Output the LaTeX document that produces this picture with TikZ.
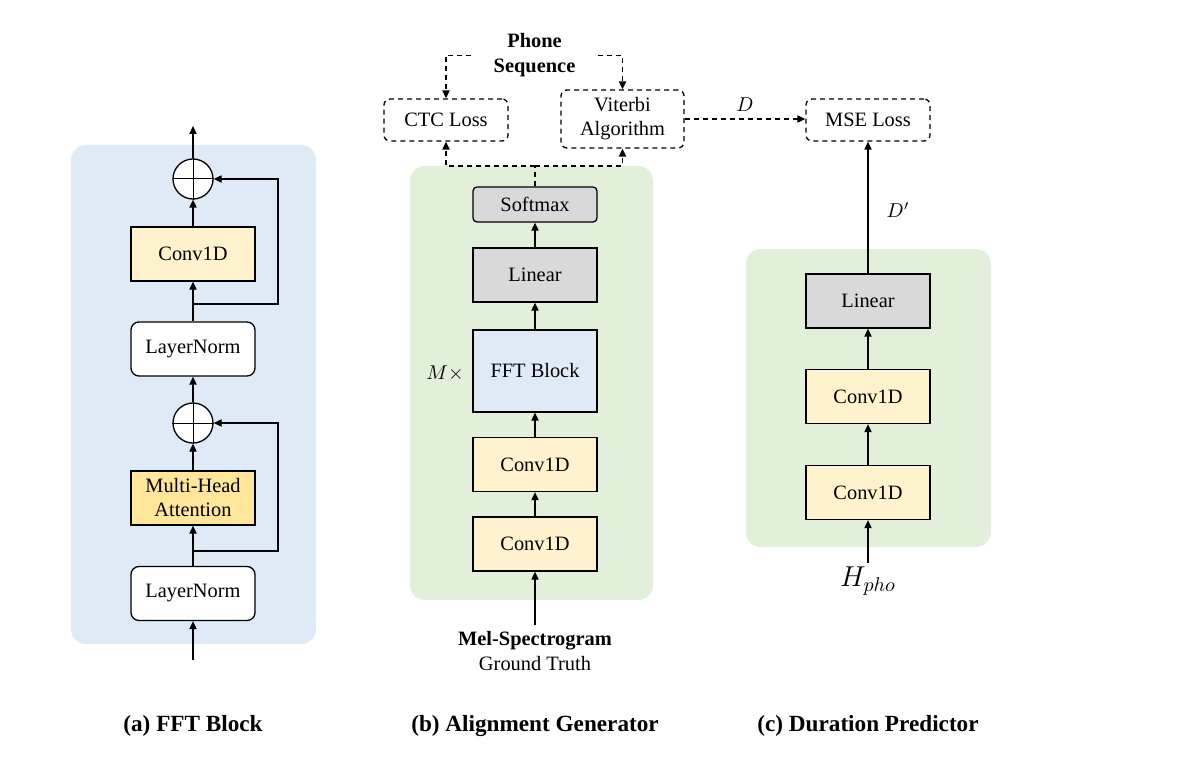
\documentclass[tikz,border=0pt]{standalone}
\usepackage{fontspec}
\setmainfont{LiberationSerif}[Extension=.ttf,UprightFont=*-Regular,BoldFont=*-Bold,ItalicFont=*-Italic,BoldItalicFont=*-BoldItalic]
\usetikzlibrary{arrows.meta}

\begin{document}
\begin{tikzpicture}[x=0.5pt,y=-0.5pt,line width=0.65pt,
  arr/.style={-{Triangle[length=4pt,width=3.6pt]}},
  dline/.style={dashed,dash pattern=on 2.5pt off 2pt,-{Triangle[length=4pt,width=3.6pt]}},
  blk/.style={draw,minimum width=62pt,minimum height=27pt,inner sep=0pt,align=center,font=\fontsize{10.2}{12}\selectfont},
  lossbox/.style={blk,dashed,dash pattern=on 2.5pt off 2pt,rounded corners=3pt,minimum height=21pt},
  addnode/.style={circle,draw,fill=white,minimum size=20pt,inner sep=0pt},
  captext/.style={font=\fontsize{11.6}{13}\selectfont\bfseries}]
\definecolor{bgblue}{HTML}{DEEBF7}
\definecolor{bggreen}{HTML}{E2F0D9}
\definecolor{convyel}{HTML}{FFF2CC}
\definecolor{attyel}{HTML}{FFE699}
\definecolor{lingray}{HTML}{D9D9D9}
\useasboundingbox (0,0) rectangle (1192,770);
% backgrounds
\fill[bgblue,rounded corners=7.5pt] (71,145) rectangle (316,644);
\fill[bggreen,rounded corners=7.5pt] (410,166) rectangle (653,600);
\fill[bggreen,rounded corners=7.5pt] (746,249) rectangle (991,547);

% (a) FFT Block
\node [blk,fill=white,rounded corners=4pt] (ln1) at (193,593.5) {LayerNorm};
\node [blk,fill=attyel] (mha) at (193,498) {Multi-Head\\Attention};
\node [addnode] (add1) at (193,423) {};
\node [blk,fill=white,rounded corners=4pt] (ln2) at (193,349) {LayerNorm};
\node [blk,fill=convyel] (conva) at (193,254) {Conv1D};
\node [addnode] (add2) at (193,179) {};
\foreach \a in {add1,add2}
  {\draw[line width=0.5pt] (\a.north) -- (\a.south) (\a.west) -- (\a.east);}
\coordinate (ina) at (193,660);
\coordinate (outa) at (193,126);
\coordinate (sk1) at (193,551);
\coordinate (sk2) at (193,304);
\draw[arr] (ina) -- (ln1.south);
\draw[arr] (ln1.north) -- (mha.south);
\draw[arr] (mha.north) -- (add1.south);
\draw[arr] (add1.north) -- (ln2.south);
\draw[arr] (ln2.north) -- (conva.south);
\draw[arr] (conva.north) -- (add2.south);
\draw[arr] (add2.north) -- (outa);
\draw[arr] (sk1) -- (278,551) |- (add1.east);
\draw[arr] (sk2) -- (278,304) |- (add2.east);

% (b) Alignment Generator
\node [blk,fill=convyel] (convb1) at (535,544) {Conv1D};
\node [blk,fill=convyel] (convb2) at (535,464.5) {Conv1D};
\node [blk,fill=bgblue,minimum height=41pt] (fft) at (535,371) {FFT Block};
\node [blk,fill=lingray] (linb) at (535,275) {Linear};
\node [blk,fill=lingray,rounded corners=2pt,minimum height=17.5pt] (smx) at (535,204.5) {Softmax};
\node [font=\fontsize{10.2}{12}\selectfont] (rep) at (445,373) {$M\times$};
\node [lossbox] (ctc) at (446,120) {CTC Loss};
\node [lossbox,minimum width=61.5pt,minimum height=29pt] (vit) at (622.5,119) {Viterbi\\Algorithm};
\node [align=center,minimum width=62.5pt,inner sep=0pt,font=\fontsize{10.2}{12.5}\selectfont\bfseries] (ps) at (534.5,55.5) {Phone\\Sequence};
\node [align=center,font=\fontsize{10.2}{12.5}\selectfont] (mel) at (535,651) {\textbf{Mel-Spectrogram}\\Ground Truth};
\coordinate (inb) at (535,625);
\coordinate (sp) at (535,166);
\draw[arr] (inb) -- (convb1.south);
\draw[arr] (convb1.north) -- (convb2.south);
\draw[arr] (convb2.north) -- (fft.south);
\draw[arr] (fft.north) -- (linb.south);
\draw[arr] (linb.north) -- (smx.south);
\draw[dashed,dash pattern=on 2.5pt off 2pt] (smx.north) -- (sp);
\draw[dline] (sp) -| (ctc.south);
\draw[dline] (sp) -| (vit.south);
\draw[dline] (ps.west) -| (ctc.north);
\draw[dline] (ps.east) -| (vit.north);

% (c) Duration Predictor
\node [lossbox] (mse) at (868,120) {MSE Loss};
\node [blk,fill=convyel] (convc1) at (868,492.5) {Conv1D};
\node [blk,fill=convyel] (convc2) at (868,396.5) {Conv1D};
\node [blk,fill=lingray] (linc) at (868,301) {Linear};
\node [font=\fontsize{14}{16}\selectfont] (hpho) at (868,581) {$H_{pho}$};
\node [font=\fontsize{10.2}{12}\selectfont] (dp) at (898,210) {$D'$};
\node [font=\fontsize{10.2}{12}\selectfont] (dd) at (745,105) {$D$};
\coordinate (inc) at (868,563);
\draw[arr] (inc) -- (convc1.south);
\draw[arr] (convc1.north) -- (convc2.south);
\draw[arr] (convc2.north) -- (linc.south);
\draw[arr] (linc.north) -- (mse.south);
\draw[dline] (vit.east) -- (mse.west |- vit.east);

% captions
\node [captext] (capa) at (193,726) {(a) FFT Block};
\node [captext] (capb) at (535,726) {(b) Alignment Generator};
\node [captext] (capc) at (868,726) {(c) Duration Predictor};
\end{tikzpicture}
\end{document}
